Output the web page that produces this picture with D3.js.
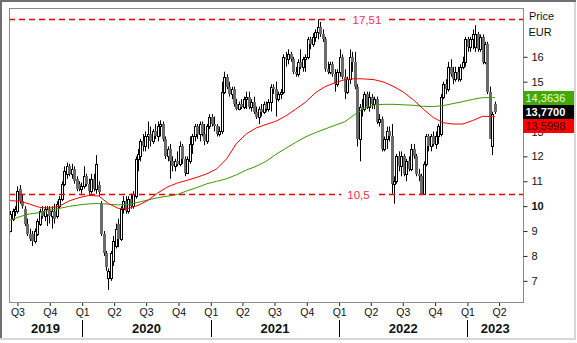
<!DOCTYPE html>
<html>
<head>
<meta charset="utf-8">
<script src="https://cdn.jsdelivr.net/npm/d3@7"></script>
<style>
  html, body { margin: 0; padding: 0; background: #fff; }
  svg { display: block; font-family: "Liberation Sans", Arial, sans-serif; }
</style>
</head>
<body>
<script>
// Weekly candles, one per week starting from this Monday
const firstWeek = new Date(2019, 5, 10);

const opens = [
  9.0, 9.5, 9.8, 9.8, 10.7, 10.2, 9.9, 9.3, 8.9, 8.9,
  8.6, 8.9, 9.3, 9.8, 9.6, 9.7, 9.9, 9.6, 9.8, 9.6,
  10.0, 10.3, 10.9, 11.3, 11.6, 11.3, 11.5, 11.1, 10.9, 10.7,
  10.8, 11.2, 10.9, 10.6, 11.1, 10.7, 10.85, 10.1, 8.9, 8.1,
  7.1, 7.1, 7.8, 8.4, 9.3, 8.7, 9.9, 10.2, 9.8, 10.3,
  10.0, 10.4, 11.9, 12.0, 12.6, 12.4, 12.8, 12.9, 12.6, 13.0,
  12.8, 13.2, 13.3, 12.7, 12.0, 12.3, 11.8, 11.6, 11.8, 11.7,
  12.4, 11.9, 11.35, 11.8, 12.5, 12.8, 13.2, 12.9, 13.3, 12.9,
  12.6, 13.2, 13.6, 13.3, 13.2, 12.9, 13.0, 14.6, 15.2, 14.8,
  14.5, 14.7, 14.1, 13.9, 14.1, 14.0, 14.3, 14.4, 14.0, 14.2,
  13.8, 13.6, 13.9, 13.8, 14.1, 13.9, 14.2, 14.8, 14.7, 14.3,
  14.5, 14.6, 16.0, 15.9, 16.1, 15.9, 15.4, 15.3, 15.8, 15.6,
  15.9, 16.0, 16.7, 16.5, 16.8, 17.0, 17.2, 16.9, 16.7, 15.5,
  15.4, 15.7, 15.3, 14.9, 15.4, 16.0, 15.2, 14.6, 15.1, 16.0,
  15.8, 14.8, 12.7, 14.0, 13.9, 14.5, 14.0, 14.4, 14.1, 14.3,
  13.4, 13.5, 12.3, 12.7, 13.0, 12.8, 10.9, 11.0, 12.0, 11.6,
  12.0, 11.3, 11.8, 11.5, 12.3, 12.0, 11.3, 11.2, 10.5, 11.7,
  12.8, 12.4, 12.8, 12.5, 12.8, 12.9, 14.4, 14.9, 14.7, 15.6,
  15.4, 15.1, 15.4, 15.1, 15.6, 15.8, 16.7, 16.4, 16.7, 16.4,
  16.9, 16.3, 16.8, 15.8, 16.5, 14.6, 12.4, 14.1
];
const highs = [
  9.8, 9.9, 10.0, 10.8, 10.85, 10.5, 10.0, 9.5, 9.1, 9.0,
  9.1, 9.5, 9.9, 10.0, 10.0, 10.0, 10.0, 10.0, 10.1, 10.2,
  10.4, 11.0, 11.6, 11.75, 11.7, 11.7, 11.6, 11.2, 11.0, 10.95,
  11.6, 11.3, 11.1, 11.3, 11.3, 12.05, 11.0, 10.2, 9.0, 8.2,
  7.5, 8.2, 8.8, 9.3, 9.5, 10.0, 10.4, 10.4, 10.4, 10.5,
  10.6, 12.0, 12.3, 12.7, 12.9, 13.0, 13.4, 13.2, 13.1, 13.3,
  13.4, 13.45, 13.4, 12.8, 12.4, 12.5, 12.0, 11.9, 12.2, 12.6,
  12.5, 12.0, 12.0, 12.8, 12.9, 13.3, 13.3, 13.4, 13.4, 13.3,
  13.3, 13.7, 13.7, 13.6, 13.3, 13.2, 15.0, 15.4, 15.3, 15.0,
  14.8, 14.8, 14.3, 14.2, 14.3, 14.4, 14.6, 14.6, 14.3, 14.4,
  14.0, 14.0, 14.1, 14.2, 14.2, 14.3, 14.9, 14.9, 15.0, 14.6,
  14.7, 16.1, 16.2, 16.3, 16.2, 16.0, 15.6, 15.9, 16.3, 16.0,
  16.1, 16.8, 16.8, 16.95, 17.1, 17.51, 17.4, 17.1, 16.8, 15.8,
  15.8, 15.8, 15.5, 15.5, 16.3, 16.1, 15.5, 15.2, 16.3, 16.2,
  16.2, 14.9, 14.1, 14.3, 14.6, 14.6, 14.6, 14.5, 14.4, 14.4,
  13.7, 13.6, 12.8, 13.2, 13.2, 13.3, 11.2, 12.1, 12.2, 12.2,
  12.1, 11.9, 12.0, 12.5, 12.5, 12.1, 11.5, 11.3, 11.8, 12.9,
  12.9, 12.9, 13.0, 13.0, 13.3, 14.5, 15.0, 15.1, 15.8, 15.9,
  15.6, 15.6, 15.6, 15.7, 16.0, 16.8, 16.8, 16.8, 17.1, 17.27,
  17.0, 16.9, 16.9, 16.6, 16.6, 14.8, 13.8, 14.2
];
const lows = [
  8.95, 9.4, 9.6, 9.7, 10.1, 9.9, 9.2, 8.8, 8.6, 8.4,
  8.5, 8.8, 9.2, 9.5, 9.4, 9.2, 9.3, 9.1, 9.3, 9.5,
  9.9, 10.2, 10.8, 11.1, 11.2, 11.1, 10.9, 10.6, 10.6, 10.5,
  10.7, 10.8, 10.5, 10.5, 10.6, 10.5, 10.4, 8.8, 8.0, 7.4,
  6.63, 7.0, 7.6, 8.3, 8.35, 8.6, 9.7, 9.7, 9.7, 9.9,
  9.9, 10.3, 11.4, 11.8, 12.2, 12.2, 12.3, 12.4, 12.5, 12.7,
  12.6, 12.8, 12.6, 11.9, 11.8, 11.1, 11.4, 11.4, 11.6, 11.6,
  11.7, 11.2, 11.3, 11.7, 12.1, 12.6, 12.7, 12.6, 12.8, 12.45,
  12.5, 13.1, 13.2, 13.0, 12.8, 12.8, 12.9, 14.5, 14.7, 14.4,
  14.3, 14.0, 13.85, 13.85, 13.9, 13.9, 13.9, 13.9, 13.8, 13.7,
  13.5, 13.3, 13.6, 13.7, 13.8, 13.8, 13.8, 14.5, 13.6, 14.2,
  14.3, 14.5, 15.6, 15.7, 15.8, 15.3, 15.2, 15.2, 15.5, 15.4,
  15.4, 15.9, 16.3, 16.4, 16.6, 16.7, 16.8, 16.6, 15.4, 15.3,
  15.3, 15.2, 14.6, 14.8, 15.2, 15.1, 14.3, 14.5, 14.9, 15.4,
  14.7, 12.4, 11.8, 13.6, 13.8, 13.9, 13.8, 13.9, 13.9, 13.3,
  13.2, 12.2, 12.2, 12.3, 12.6, 10.5, 10.1, 10.9, 11.4, 11.2,
  11.2, 11.0, 11.4, 11.4, 11.9, 11.2, 11.0, 10.45, 10.45, 11.6,
  12.2, 12.2, 12.4, 12.3, 12.5, 12.8, 14.3, 14.5, 14.6, 15.2,
  14.9, 15.0, 15.0, 15.0, 15.5, 15.6, 16.2, 16.2, 16.3, 16.2,
  16.2, 16.2, 15.7, 15.7, 14.5, 12.7, 12.05, 13.7
];
const closes = [
  9.7, 9.8, 9.9, 10.6, 10.2, 10.0, 9.3, 8.9, 8.7, 8.6,
  9.0, 9.4, 9.8, 9.6, 9.9, 9.9, 9.6, 9.8, 9.5, 10.1,
  10.3, 10.9, 11.4, 11.6, 11.3, 11.5, 11.0, 10.7, 10.7, 10.8,
  11.2, 10.9, 10.6, 11.1, 10.7, 11.7, 10.55, 8.9, 8.1, 7.55,
  7.4, 8.1, 8.6, 9.1, 8.7, 9.9, 10.2, 9.8, 10.3, 10.0,
  10.5, 11.9, 12.1, 12.6, 12.4, 12.8, 12.9, 12.6, 13.0, 12.8,
  13.2, 13.3, 12.7, 12.0, 12.3, 11.8, 11.6, 11.8, 11.7, 12.4,
  11.9, 11.35, 11.9, 12.5, 12.8, 13.2, 12.9, 13.3, 12.9, 12.6,
  13.2, 13.6, 13.3, 13.2, 12.9, 13.0, 14.6, 15.2, 14.8, 14.5,
  14.7, 14.1, 13.9, 14.1, 14.0, 14.3, 14.4, 14.0, 14.2, 13.8,
  13.6, 13.9, 13.8, 14.1, 13.9, 14.2, 14.8, 14.7, 14.3, 14.5,
  14.6, 16.0, 15.9, 16.1, 15.9, 15.4, 15.3, 15.8, 15.6, 15.9,
  16.0, 16.7, 16.5, 16.8, 17.0, 17.2, 16.9, 16.7, 15.5, 15.4,
  15.7, 15.3, 14.9, 15.4, 16.0, 15.2, 14.6, 15.1, 16.0, 15.8,
  14.8, 12.7, 14.0, 13.9, 14.5, 14.0, 14.4, 14.1, 14.3, 13.4,
  13.5, 12.3, 12.7, 13.0, 12.8, 10.9, 11.0, 12.0, 11.6, 12.0,
  11.3, 11.8, 11.5, 12.3, 12.0, 11.3, 11.2, 10.5, 11.7, 12.8,
  12.4, 12.8, 12.5, 12.8, 13.2, 14.4, 14.9, 14.7, 15.6, 15.3,
  15.1, 15.4, 15.1, 15.6, 15.8, 16.7, 16.4, 16.7, 16.9, 16.9,
  16.3, 16.8, 15.8, 16.5, 14.6, 12.7, 13.7, 13.77
];

// Moving averages, sampled at these week numbers
const maWeeks = [
  0, 4, 8, 12, 16, 20, 24, 28, 32, 36, 40, 44, 48, 52, 56, 60, 64, 68, 72, 76,
  80, 84, 88, 92, 96, 100, 104, 108, 112, 116, 120, 124, 128, 132, 136, 140,
  144, 148, 152, 156, 160, 164, 168, 172, 176, 180, 184, 188, 192, 196, 197
];
const maRed = [
  10.22, 10.20, 10.08, 9.95, 9.92, 10.00, 10.21, 10.34, 10.43, 10.41,
  10.10, 9.91, 9.91, 10.03, 10.23, 10.53, 10.77, 10.93, 11.04, 11.16,
  11.30, 11.50, 11.90, 12.52, 12.90, 13.14, 13.28, 13.41, 13.62, 13.89,
  14.17, 14.55, 14.80, 14.96, 15.08, 15.12, 15.11, 15.08, 14.98, 14.80,
  14.57, 14.26, 13.89, 13.56, 13.35, 13.30, 13.30, 13.44, 13.61, 13.60,
  13.5998
];
const maGreen = [
  9.44, 9.58, 9.69, 9.74, 9.83, 9.91, 9.99, 10.05, 10.09, 10.11,
  10.08, 10.05, 10.07, 10.15, 10.25, 10.34, 10.40, 10.47, 10.62, 10.75,
  10.90, 11.00, 11.10, 11.26, 11.45, 11.60, 11.80, 12.08, 12.32, 12.56,
  12.78, 12.95, 13.10, 13.25, 13.39, 13.68, 13.94, 14.07, 14.09, 14.09,
  14.07, 14.05, 14.01, 14.00, 14.04, 14.12, 14.20, 14.29, 14.36, 14.36,
  14.3636
];

const levels = [
  { value: 17.51, label: "17,51", labelX: 367 },
  { value: 10.5, label: "10,5", labelX: 358.5 }
];
const priceTicks = [7, 8, 9, 10, 11, 12, 13, 14, 15, 16];
const hiddenTickLabels = [14];
const lastClose = closes[closes.length - 1];

const W = 577, H = 343;
const plot = { left: 9, top: 8, right: 523, bottom: 302 };

const svg = d3.select("body").append("svg")
  .attr("width", W).attr("height", H);

// Panel border: dark top/left, light bottom/right
svg.append("rect").attr("x", 0).attr("y", 0).attr("width", W).attr("height", H).attr("fill", "#fff");
svg.append("rect").attr("x", 0).attr("y", 0).attr("width", 576).attr("height", 2).attr("fill", "#6f6f6f");
svg.append("rect").attr("x", 0).attr("y", 0).attr("width", 2).attr("height", 340).attr("fill", "#6f6f6f");
svg.append("rect").attr("x", 0).attr("y", 338).attr("width", 576).attr("height", 2).attr("fill", "#d6d6d6");
svg.append("rect").attr("x", 574).attr("y", 2).attr("width", 2).attr("height", 338).attr("fill", "#d6d6d6");

const x = d3.scaleTime()
  .domain([new Date(2019, 5, 7), new Date(2023, 5, 8)])
  .range([plot.left, plot.right]);
const y = d3.scaleLinear()
  .domain([6.15, 17.96])
  .range([plot.bottom, plot.top]);

const dates = opens.map((_, i) => d3.timeDay.offset(firstWeek, 7 * i));
const candles = opens.map((o, i) => ({
  date: dates[i], o, h: highs[i], l: lows[i], c: closes[i]
}));

svg.append("clipPath").attr("id", "plotClip")
  .append("rect")
  .attr("x", plot.left).attr("y", plot.top)
  .attr("width", plot.right - plot.left).attr("height", plot.bottom - plot.top);

const inner = svg.append("g").attr("clip-path", "url(#plotClip)");

// Candles
const cg = inner.append("g");
candles.forEach(d => {
  const a = Math.round(x(d.date)) - 1;
  const up = d.c >= d.o;
  const yt = Math.round(y(Math.max(d.o, d.c)));
  const yb = Math.round(y(Math.min(d.o, d.c)));
  cg.append("line")
    .attr("x1", a + 1.5).attr("x2", a + 1.5)
    .attr("y1", y(d.h)).attr("y2", y(d.l))
    .attr("stroke", "#000").attr("stroke-width", 1);
  if (up) {
    cg.append("rect")
      .attr("x", a + 0.5).attr("y", yt + 0.5)
      .attr("width", 2).attr("height", Math.max(yb - yt, 1))
      .attr("fill", "#fff").attr("stroke", "#000").attr("stroke-width", 1);
  } else {
    cg.append("rect")
      .attr("x", a).attr("y", yt)
      .attr("width", 3).attr("height", Math.max(yb - yt, 1))
      .attr("fill", "#6b6b6b");
  }
});

// Moving averages
const maLine = vals => d3.line()
  .x(w => x(d3.timeDay.offset(firstWeek, 7 * w)))
  .y((w, i) => y(vals[i]));
inner.append("path").datum(maWeeks)
  .attr("d", maLine(maGreen))
  .attr("fill", "none").attr("stroke", "#3a9a00").attr("stroke-width", 1);
inner.append("path").datum(maWeeks)
  .attr("d", maLine(maRed))
  .attr("fill", "none").attr("stroke", "#ff0000").attr("stroke-width", 1);

// Horizontal level lines with labels
levels.forEach(lv => {
  const yy = Math.round(y(lv.value)) + 0.5;
  inner.append("line")
    .attr("x1", plot.left).attr("x2", plot.right)
    .attr("y1", yy).attr("y2", yy)
    .attr("stroke", "#e80000").attr("stroke-width", 1.4)
    .attr("stroke-dasharray", "6,4");
  const t = svg.append("text")
    .attr("x", lv.labelX).attr("y", yy + 4)
    .attr("text-anchor", "middle")
    .attr("font-size", 11.5)
    .attr("fill", "#ff2a55")
    .text(lv.label);
  const bb = t.node().getBBox();
  svg.insert("rect", () => t.node())
    .attr("x", bb.x - 6).attr("y", yy - 3)
    .attr("width", bb.width + 12).attr("height", 6)
    .attr("fill", "#fff");
});

// Plot frame
svg.append("rect")
  .attr("x", plot.left + 0.5).attr("y", plot.top + 0.5)
  .attr("width", plot.right - plot.left).attr("height", plot.bottom - plot.top)
  .attr("fill", "none").attr("stroke", "#8a8a9c").attr("stroke-width", 1);

// Right price axis
const yAxis = svg.append("g")
  .attr("transform", `translate(${plot.right + 0.5},0)`)
  .call(d3.axisRight(y).tickValues(priceTicks).tickSize(4).tickPadding(4)
    .tickFormat(d => hiddenTickLabels.includes(d) ? "" : d3.format("d")(d)));
yAxis.select(".domain").remove();
yAxis.selectAll("line").attr("stroke", "#222");
yAxis.selectAll("text")
  .attr("font-family", "'Liberation Sans', Arial, sans-serif")
  .attr("font-size", 11).attr("fill", "#111")
  .attr("font-weight", d => d === 10 ? "bold" : "normal");

svg.append("text").attr("x", 529).attr("y", 19.5)
  .attr("font-size", 11).attr("fill", "#111").text("Price");
svg.append("text").attr("x", 528.5).attr("y", 35.5)
  .attr("font-size", 11).attr("fill", "#111").text("EUR");

// Last-value boxes, stacked so they do not overlap
const boxes = [
  { value: maGreen[maGreen.length - 1], bg: "#44a800", fg: "#e4ffd8", weight: "normal" },
  { value: lastClose, bg: "#000000", fg: "#ffffff", weight: "bold" },
  { value: maRed[maRed.length - 1], bg: "#ff0000", fg: "#3a0000", weight: "normal" }
].sort((a, b) => b.value - a.value);
const boxH = 14;
let prevBottom = -Infinity;
boxes.forEach(b => {
  const top = Math.max(Math.round(y(b.value) - boxH / 2), prevBottom);
  prevBottom = top + boxH;
  svg.append("rect")
    .attr("x", plot.right).attr("y", top)
    .attr("width", 574 - plot.right).attr("height", boxH)
    .attr("fill", b.bg);
  svg.append("text")
    .attr("x", plot.right + 2.5).attr("y", top + 11)
    .attr("font-size", 11).attr("font-weight", b.weight)
    .attr("fill", b.fg)
    .text(d3.format(".4f")(b.value).replace(".", ","));
});

// Bottom time axis: quarters
const [d0, d1] = x.domain();
const quarters = d3.timeMonth.every(3).range(d0, d1);
const xAxis = svg.append("g")
  .attr("transform", `translate(0,${plot.bottom + 1})`)
  .call(d3.axisBottom(x).tickValues(quarters).tickSize(3).tickPadding(3)
    .tickFormat(d => "Q" + (Math.floor(d.getMonth() / 3) + 1)));
xAxis.select(".domain").remove();
xAxis.selectAll("line").attr("stroke", "#222");
xAxis.selectAll("text")
  .attr("font-family", "'Liberation Sans', Arial, sans-serif")
  .attr("font-size", 10.5).attr("fill", "#111");

// Years: centred in their visible span, separated at each January
const years = d3.range(d0.getFullYear(), d1.getFullYear() + 1);
years.forEach(yr => {
  const s = new Date(yr, 0, 1), e = new Date(yr + 1, 0, 1);
  const xs = x(s < d0 ? d0 : s), xe = x(e > d1 ? d1 : e);
  svg.append("text")
    .attr("x", (xs + xe) / 2).attr("y", 333)
    .attr("text-anchor", "middle")
    .attr("font-size", 13).attr("font-weight", "bold").attr("fill", "#111")
    .text(yr);
  if (s > d0) {
    const xx = Math.round(x(s)) + 0.5;
    svg.append("line")
      .attr("x1", xx).attr("x2", xx).attr("y1", 320).attr("y2", 337)
      .attr("stroke", "#000").attr("stroke-width", 1);
  }
});
</script>
</body>
</html>
